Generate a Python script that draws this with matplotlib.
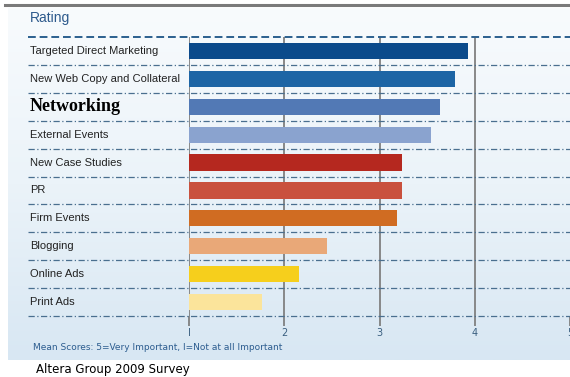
import numpy as np
import matplotlib
matplotlib.use("Agg")
import matplotlib.pyplot as plt
from matplotlib.transforms import blended_transform_factory

# survey data (mean scores)
categories = ["Targeted Direct Marketing", "New Web Copy and Collateral", "Networking",
              "External Events", "New Case Studies", "PR", "Firm Events",
              "Blogging", "Online Ads", "Print Ads"]
scores = [3.93, 3.79, 3.64, 3.54, 3.24, 3.24, 3.18, 2.45, 2.15, 1.77]
bar_colors = ["#0b4a8b", "#1d65a5", "#5279b5", "#8aa3cf", "#b5281f", "#c9513e",
              "#d06c22", "#e9a878", "#f6cf1c", "#fbe49b"]
ticks = [1, 2, 3, 4, 5]
tick_labels = ["I", "2", "3", "4", "5"]

W, H = 570, 377
fig = plt.figure(figsize=(W / 100, H / 100), dpi=100)
fig.patch.set_facecolor("white")

# light blue panel background with a soft gradient
bg = fig.add_axes([8 / W, 1 - 360 / H, 1 - 8 / W, (360 - 8) / H])
grad = np.linspace(0, 1, 256).reshape(-1, 1)
bg.imshow(grad, aspect="auto", cmap=matplotlib.colors.LinearSegmentedColormap.from_list(
    "p", ["#f8fbfd", "#ebf3f9", "#d8e7f3"]), extent=[0, 1, 0, 1], origin="upper")
bg.axis("off")

# grey rule at the very top
fig.add_artist(plt.Line2D([5 / W, 1], [1 - 5 / H, 1 - 5 / H], color="#7a7a7a", lw=2.2))

ax = fig.add_axes([189 / W, 1 - 316 / H, 1 - 189 / W, (316 - 37) / H])
ax.patch.set_alpha(0)
n = len(categories)
y = np.arange(n)
ax.barh(y, np.array(scores) - 1, left=1, height=0.58, color=bar_colors, zorder=3)
ax.set_xlim(1, 5)
ax.set_ylim(n - 0.5, -0.5)

for x in ticks[:-1]:
    ax.axvline(x, color="#808080", lw=1.3, zorder=2)

for s in ax.spines.values():
    s.set_visible(False)
ax.set_yticks([])
ax.set_xticks(ticks)
ax.set_xticklabels(tick_labels, fontsize=7, color="#3a5f80")
ax.tick_params(axis="x", length=7, width=1.3, color="#808080", pad=2)

# row separators extend across the label column
tr = blended_transform_factory(ax.transAxes, ax.transData)
x0 = (28 - 189) / (W - 189)
for i in range(n + 1):
    yy = i - 0.5
    if i == 0:
        ax.plot([x0, 1], [yy, yy], transform=tr, clip_on=False, color="#2b5f8f",
                lw=1.4, ls=(0, (4, 2)), zorder=4)
    else:
        ax.plot([x0, 1], [yy, yy], transform=tr, clip_on=False, color="#4a6f8f",
                lw=0.9, ls=(0, (5, 2, 1, 2)), zorder=4)

# category labels
for i, c in enumerate(categories):
    if c == "Networking":
        ax.text(x0 + 0.005, i, c, transform=tr, fontsize=13, fontweight="bold",
                family="Liberation Serif", color="black", va="center", ha="left")
    else:
        ax.text(x0 + 0.005, i, c, transform=tr, fontsize=8,
                family="Liberation Sans", color="#222222", va="center", ha="left")

fig.text(30 / W, 1 - 18 / H, "Rating", fontsize=10, color="#2d5a8c",
         family="Liberation Sans", va="center", ha="left")
fig.text(33 / W, 1 - 347 / H, "Mean Scores: 5=Very Important, I=Not at all Important",
         fontsize=6.5, color="#2c5d8f", va="center", ha="left")
fig.text(36 / W, 1 - 369 / H, "Altera Group 2009 Survey", fontsize=8.5,
         color="black", va="center", ha="left")

fig.savefig("out.png", dpi=100)
